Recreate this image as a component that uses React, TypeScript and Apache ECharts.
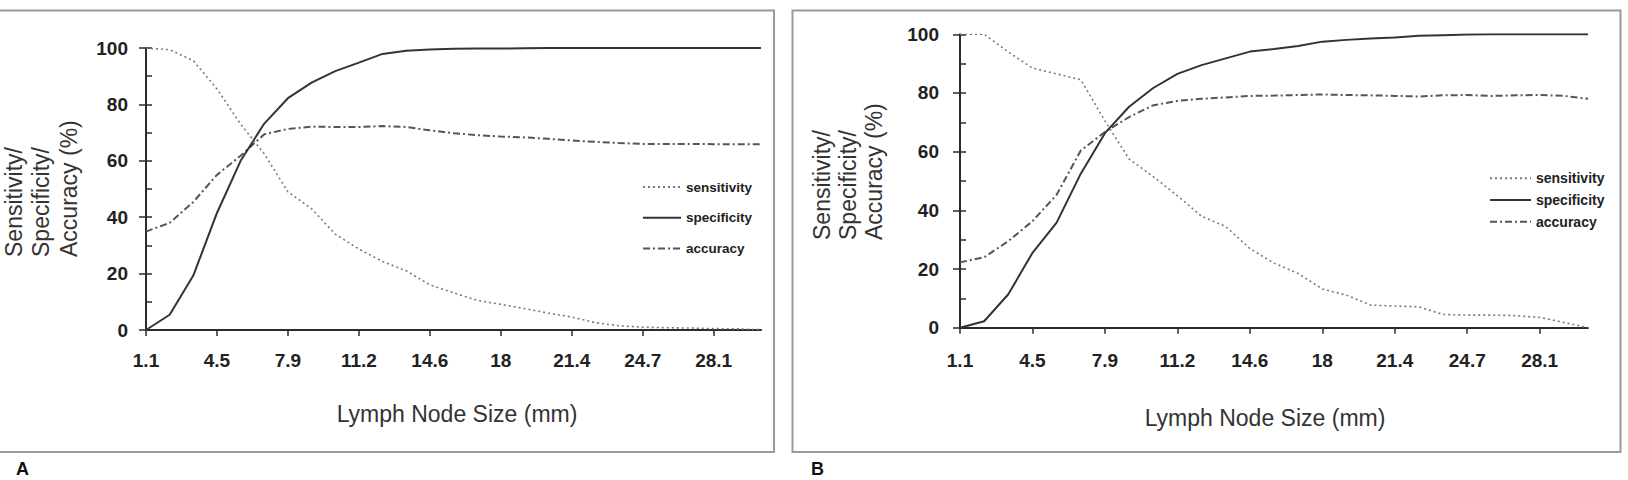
import React, { useEffect, useRef } from "react";
import * as echarts from "echarts";

// Lymph node size categories (mm); every third one carries a tick label
const sizes = [
  "1.1", "2.2", "3.4", "4.5", "5.6", "6.7", "7.9", "9", "10.1", "11.2", "12.4", "13.5", "14.6", "15.7",
  "16.9", "18", "19.1", "20.2", "21.4", "22.5", "23.6", "24.7", "25.9", "27", "28.1", "29.2", "30.4",
];

// Panel A
const sensitivityA = [100, 99.4, 95.5, 85.5, 73, 62.5, 49, 43, 34, 28.7, 24.3, 21, 16, 13.2, 10.5, 9.1, 7.6, 6, 4.6, 2.6, 1.5, 1, 0.8, 0.7, 0.5, 0.4, 0.1];
const specificityA = [0, 5.4, 19.3, 41.5, 60, 73.2, 82.2, 87.7, 91.8, 94.8, 97.9, 99, 99.5, 99.7, 99.8, 99.8, 99.9, 100, 100, 100, 100, 100, 100, 100, 100, 100, 100];
const accuracyA = [34.9, 38, 45.4, 55, 61.8, 69.4, 71.3, 72.1, 72, 72, 72.3, 72, 70.8, 69.8, 69.1, 68.6, 68.3, 67.8, 67.2, 66.7, 66.3, 66, 66, 66, 65.9, 65.9, 65.9];

// Panel B
const sensitivityB = [100, 100, 94, 88.5, 86.5, 84.5, 70.5, 57.5, 51.5, 45, 38, 34.5, 27, 22, 18.5, 13.2, 11.1, 7.7, 7.4, 7.1, 4.5, 4.3, 4.3, 4.1, 3.5, 1.8, 0];
const specificityB = [0, 2.2, 11.4, 25.5, 35.8, 52.5, 66.3, 75.3, 81.7, 86.5, 89.5, 91.8, 94.1, 95, 96, 97.5, 98.1, 98.6, 98.9, 99.5, 99.7, 99.9, 100, 100, 100, 100, 100];
const accuracyB = [22.3, 24, 29.5, 36.3, 45.3, 60.4, 66.7, 71.8, 75.8, 77.3, 78, 78.5, 79, 79.1, 79.3, 79.5, 79.3, 79.2, 79, 78.8, 79.2, 79.3, 79, 79.2, 79.3, 79, 78];

const seriesNames = ["sensitivity", "specificity", "accuracy"];
const yTitleLines = ["Sensitivity/", "Specificity/", "Accuracy (%)"];
const xTitle = "Lymph Node Size (mm)";

const FONT = "'Liberation Sans', Arial, Helvetica, sans-serif";
const AXIS = "#2b2b2b";
const TEXT = "#222";

const styles: Record<string, any> = {
  sensitivity: { color: "#7a7a7a", width: 1.6, type: [2, 3] },
  specificity: { color: "#333", width: 2, type: "solid" },
  accuracy: { color: "#555", width: 2, type: [7, 3, 2, 3] },
};

function xAxisFor(gridIndex: number, margin: number) {
  return {
    type: "category",
    gridIndex,
    data: sizes,
    boundaryGap: false,
    axisLine: { lineStyle: { color: AXIS, width: 2 } },
    axisTick: { interval: 2, length: 6, lineStyle: { color: AXIS, width: 1.5 } },
    axisLabel: { interval: 2, margin, color: TEXT, fontSize: 19, fontWeight: "bold", fontFamily: FONT },
    splitLine: { show: false },
  };
}

function yAxesFor(gridIndex: number, margin: number) {
  return [
    {
      type: "value",
      gridIndex,
      position: "left",
      min: 0,
      max: 100,
      interval: 20,
      axisLine: { show: true, lineStyle: { color: AXIS, width: 2 } },
      axisTick: { show: true, length: 7, lineStyle: { color: AXIS, width: 1.5 } },
      axisLabel: { margin, color: TEXT, fontSize: 19, fontWeight: "bold", fontFamily: FONT },
      splitLine: { show: false },
    },
    {
      type: "value",
      gridIndex,
      position: "left",
      min: 0,
      max: 100,
      interval: 10,
      axisLine: { show: false },
      axisTick: { show: true, inside: true, length: 6, lineStyle: { color: AXIS, width: 1.5 } },
      axisLabel: { show: false },
      splitLine: { show: false },
    },
  ];
}

function seriesFor(idx: number, yIdx: number, values: number[][]) {
  return seriesNames.map((name, k) => ({
    name,
    type: "line",
    xAxisIndex: idx,
    yAxisIndex: yIdx,
    data: values[k],
    symbol: "none",
    lineStyle: styles[name],
    itemStyle: { color: styles[name].color },
    z: 3 - k,
  }));
}

function legendFor(left: number, top: number, itemWidth: number, gap: number, fontSize: number) {
  return {
    orient: "vertical",
    left,
    top,
    data: seriesNames,
    itemWidth,
    itemHeight: 14,
    itemGap: gap,
    padding: 0,
    selectedMode: false,
    itemStyle: { opacity: 0 },
    textStyle: { color: TEXT, fontSize, fontWeight: "bold", fontFamily: FONT, lineHeight: 14 },
  };
}

function yTitle(xs: number[], bottom: number) {
  return yTitleLines.map((t, i) => ({
    type: "text",
    x: xs[i],
    y: bottom,
    rotation: Math.PI / 2,
    style: {
      text: t,
      fill: "#333",
      font: `23px ${FONT}`,
      textAlign: "left",
      textVerticalAlign: "middle",
    },
  }));
}

export default function App() {
  const ref = useRef<HTMLDivElement>(null);

  useEffect(() => {
    if (!ref.current) return;
    const chart = echarts.init(ref.current, undefined, { renderer: "svg" });
    chart.setOption({
      animation: false,
      backgroundColor: "#fff",
      textStyle: { fontFamily: FONT },
      grid: [
        { left: 146, top: 48, width: 615, height: 282 },
        { left: 960, top: 34.3, width: 628, height: 293.4 },
      ],
      xAxis: [xAxisFor(0, 21), xAxisFor(1, 23)],
      yAxis: [...yAxesFor(0, 18), ...yAxesFor(1, 21)],
      legend: [legendFor(642, 180, 38, 16.8, 13.5), legendFor(1489, 171.3, 41, 7.7, 14)],
      series: [
        ...seriesFor(0, 0, [sensitivityA, specificityA, accuracyA]),
        ...seriesFor(1, 2, [sensitivityB, specificityB, accuracyB]),
      ],
      graphic: [
        // panel frames
        {
          type: "rect",
          shape: { x: -6, y: 10.5, width: 780, height: 441.5 },
          style: { fill: "none", stroke: "#9a9a9a", lineWidth: 2 },
          silent: true,
        },
        {
          type: "rect",
          shape: { x: 792.5, y: 10.5, width: 828, height: 441.5 },
          style: { fill: "none", stroke: "#9a9a9a", lineWidth: 2 },
          silent: true,
        },
        ...yTitle([14, 41, 69], 257),
        ...yTitle([822, 848, 874], 240),
        {
          type: "text",
          x: 457,
          y: 414,
          style: { text: xTitle, fill: "#333", font: `23px ${FONT}`, textAlign: "center", textVerticalAlign: "middle" },
        },
        {
          type: "text",
          x: 1265,
          y: 418,
          style: { text: xTitle, fill: "#333", font: `23px ${FONT}`, textAlign: "center", textVerticalAlign: "middle" },
        },
        // panel letters
        {
          type: "text",
          x: 16,
          y: 460,
          style: { text: "A", fill: "#111", font: `bold 18px ${FONT}`, textAlign: "left", textVerticalAlign: "top" },
        },
        {
          type: "text",
          x: 811,
          y: 460,
          style: { text: "B", fill: "#111", font: `bold 18px ${FONT}`, textAlign: "left", textVerticalAlign: "top" },
        },
      ],
    });
    return () => chart.dispose();
  }, []);

  return (
    <div
      ref={ref}
      style={{ position: "fixed", left: 0, top: 0, width: 1628, height: 480, background: "#fff" }}
    />
  );
}
